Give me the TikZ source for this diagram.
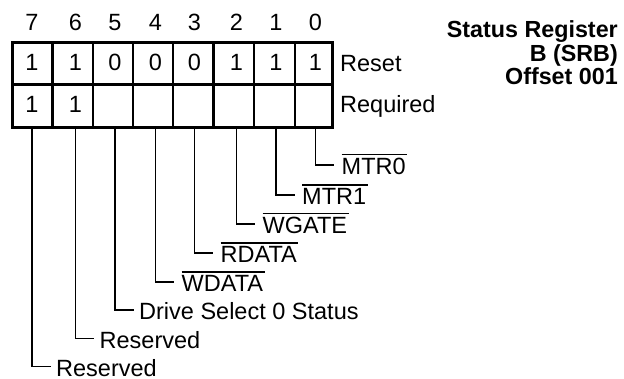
\documentclass[tikz,border=0pt]{standalone}
\usepackage{fontspec}
\setmainfont{Liberation Sans}
\newcommand\ovltext[1]{\vbox{\hrule height 1.5pt\kern 2.6pt\hbox{#1\kern1.5pt}}}
\begin{document}
\begin{tikzpicture}[x=1pt,y=-1pt,
  every node/.style={inner sep=0pt, font=\fontsize{23.5}{23.5}\selectfont},
  frame/.style={line width=3pt},
  cellline/.style={line width=2.2pt},
  wire/.style={line width=1.9pt},
  title/.style={anchor=base east, font=\fontsize{23.3}{23.3}\selectfont\bfseries}]
\useasboundingbox (0,0) rectangle (624,378);

% register grid
\draw[frame] (12.5,42) rectangle (332,127);
\draw[cellline] (12.5,84.5) -- (332,84.5);
\foreach \x in {52.5,93,133,173,213.5,254,295}
  \draw[cellline] (\x,42) -- (\x,127);

% bit numbers and values
\foreach \b/\x/\r in {7/32/1,6/75.5/1,5/115/0,4/155.5/0,3/194.5/0,2/236.5/1,1/276/1,0/315.5/1}{
  \node[anchor=base] (n\b) at (\x,30.5) {\b};
  \node[anchor=base] (r\b) at (\x,70.5) {\r};
  \coordinate (t\b) at (\x,127);
}
\node[anchor=base] (q7) at (32,112) {1};
\node[anchor=base] (q6) at (75.5,112) {1};

\node[anchor=base west] (reset) at (340,71.5) {Reset};
\node[anchor=base west] (req) at (340,112) {Required};

% title
\node[title] (ti1) at (618,37.5) {Status Register};
\node[title] (ti2) at (618,61) {B (SRB)};
\node[title] (ti3) at (618,84) {Offset 001};

% bit descriptions
\foreach \b/\x/\y/\g/\txt in {
  0/315.5/165/7.5/\ovltext{MTR0},
  1/276/195/7.5/\ovltext{MTR1},
  2/236.5/224/7.5/\ovltext{WGATE},
  3/194.5/253/7.5/\ovltext{RDATA},
  4/155.5/282/7.5/\ovltext{WDATA},
  5/115/310/5.5/Drive Select 0 Status,
  6/75.5/338.5/5.5/Reserved,
  7/32/366.5/5.5/Reserved}{
  \coordinate (e\b) at (\x+18.5,\y);
  \draw[wire] (t\b) |- (e\b);
  \node[anchor=base west] (l\b) at (\x+18.5+\g,\y+9.5) {\txt};
}
\end{tikzpicture}
\end{document}
